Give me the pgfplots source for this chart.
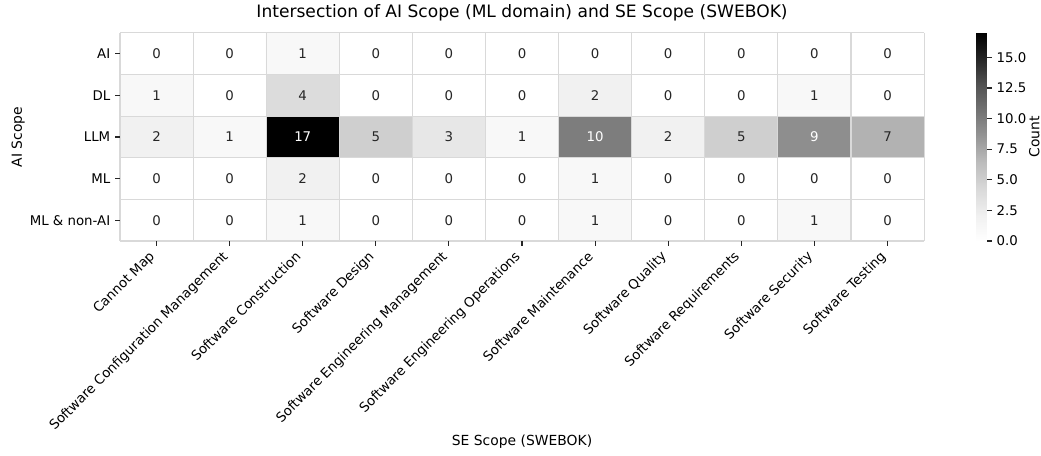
\documentclass[border=0pt]{standalone}
\usepackage{fontspec}
\setmainfont{DejaVu Sans}
\usepackage{pgfplots}
\usepackage{pgfplotstable}
\pgfplotsset{compat=1.18}
\pgfplotsset{/pgf/number format/assume math mode=true}
\pgfplotstableread{
x y c
0 0 0
1 0 0
2 0 1
3 0 0
4 0 0
5 0 0
6 0 0
7 0 0
8 0 0
9 0 0
10 0 0
0 1 1
1 1 0
2 1 4
3 1 0
4 1 0
5 1 0
6 1 2
7 1 0
8 1 0
9 1 1
10 1 0
0 2 2
1 2 1
2 2 17
3 2 5
4 2 3
5 2 1
6 2 10
7 2 2
8 2 5
9 2 9
10 2 7
0 3 0
1 3 0
2 3 2
3 3 0
4 3 0
5 3 0
6 3 1
7 3 0
8 3 0
9 3 0
10 3 0
0 4 0
1 4 0
2 4 1
3 4 0
4 4 0
5 4 0
6 4 1
7 4 0
8 4 0
9 4 1
10 4 0
}\datatable
\newcommand{\tfont}{\fontsize{10bp}{12bp}\selectfont}
\newcommand{\kfont}{\fontsize{9.6bp}{11.5bp}\selectfont}
\begin{document}
\begin{tikzpicture}
\useasboundingbox (-86.4bp,-154.8bp) rectangle (663.1bp,173.5bp);
\begin{axis}[
  scale only axis, width=578.9bp, height=149.8bp,
  at={(0,0)}, anchor=south west,
  xmin=-0.5, xmax=10.5, ymin=-0.5, ymax=4.5, y dir=reverse,
  xtick={0,1,2,3,4,5,6,7,8,9,10}, ytick={0,1,2,3,4},
  xticklabels={Cannot Map, Software Configuration Management, Software Construction, Software Design, Software Engineering Management, Software Engineering Operations, Software Maintenance, Software Quality, Software Requirements, Software Security, Software Testing},
  yticklabels={AI, DL, LLM, ML, ML \& non-AI},
  xticklabel style={xshift=-6bp, rotate=45, anchor=north east, font=\kfont, inner sep=2bp},
  yticklabel style={font=\kfont},
  xtick pos=bottom, ytick pos=left,
  tick align=outside, major tick length=3.5bp,
  major tick style={black!85, line width=0.8bp},
  minor xtick={-0.5,0.5,1.5,2.5,3.5,4.5,5.5,6.5,7.5,8.5,9.5,10.5},
  minor ytick={-0.5,0.5,1.5,2.5,3.5,4.5},
  minor tick length=0bp,
  grid=minor, minor grid style={draw=black!15, line width=0.8bp},
  axis line style={draw=none},
  axis on top,
  colormap={greys}{rgb=(1,1,1) rgb=(0.941,0.941,0.941) rgb=(0.851,0.851,0.851) rgb=(0.741,0.741,0.741) rgb=(0.588,0.588,0.588) rgb=(0.451,0.451,0.451) rgb=(0.322,0.322,0.322) rgb=(0.145,0.145,0.145) rgb=(0,0,0)},
  point meta min=0, point meta max=17,
  colorbar,
  colorbar style={
    at={(parent axis.north east)}, anchor=north west, xshift=28.9bp,
    width=7.9bp,
    ytick={0,2.5,5,7.5,10,12.5,15},
    ytick pos=right,
    yticklabel style={font=\kfont, /pgf/number format/fixed, /pgf/number format/fixed zerofill, /pgf/number format/precision=1, /pgf/number format/assume math mode=true},
    tick align=outside, major tick length=3.5bp,
    major tick style={black!85, line width=0.8bp},
    axis line style={draw=none},
    ylabel={Count},
    ylabel style={font=\tfont, at={(axis description cs:1,0.5)}, anchor=center, yshift=-34bp},
  },
  every axis title shift=0pt,
  title={Intersection of AI Scope (ML domain) and SE Scope (SWEBOK)},
  title style={font=\fontsize{12.3bp}{14bp}\selectfont, at={(axis description cs:0.5,1)}, anchor=base, yshift=11.1bp},
  xlabel={SE Scope (SWEBOK)},
  xlabel style={font=\tfont, at={(axis description cs:0.5,0)}, anchor=base, yshift=-146.9bp},
  ylabel={AI Scope},
  ylabel style={font=\tfont, at={(axis description cs:0,0.5)}, anchor=center, yshift=73.4bp},
]
\addplot[matrix plot*, mesh/cols=11, point meta=explicit] table[x=x, y=y, meta=c]{\datatable};
\addplot[only marks, mark=none, point meta=explicit,
  restrict expr to domain={\thisrow{c}}{-1:8},
  nodes near coords, nodes near coords style={anchor=center, font=\kfont, text=black!85}] table[x=x, y=y, meta=c]{\datatable};
\addplot[only marks, mark=none, point meta=explicit,
  restrict expr to domain={\thisrow{c}}{8.5:20},
  nodes near coords, nodes near coords style={anchor=center, font=\kfont, text=white}] table[x=x, y=y, meta=c]{\datatable};
\end{axis}
\end{tikzpicture}
\end{document}
